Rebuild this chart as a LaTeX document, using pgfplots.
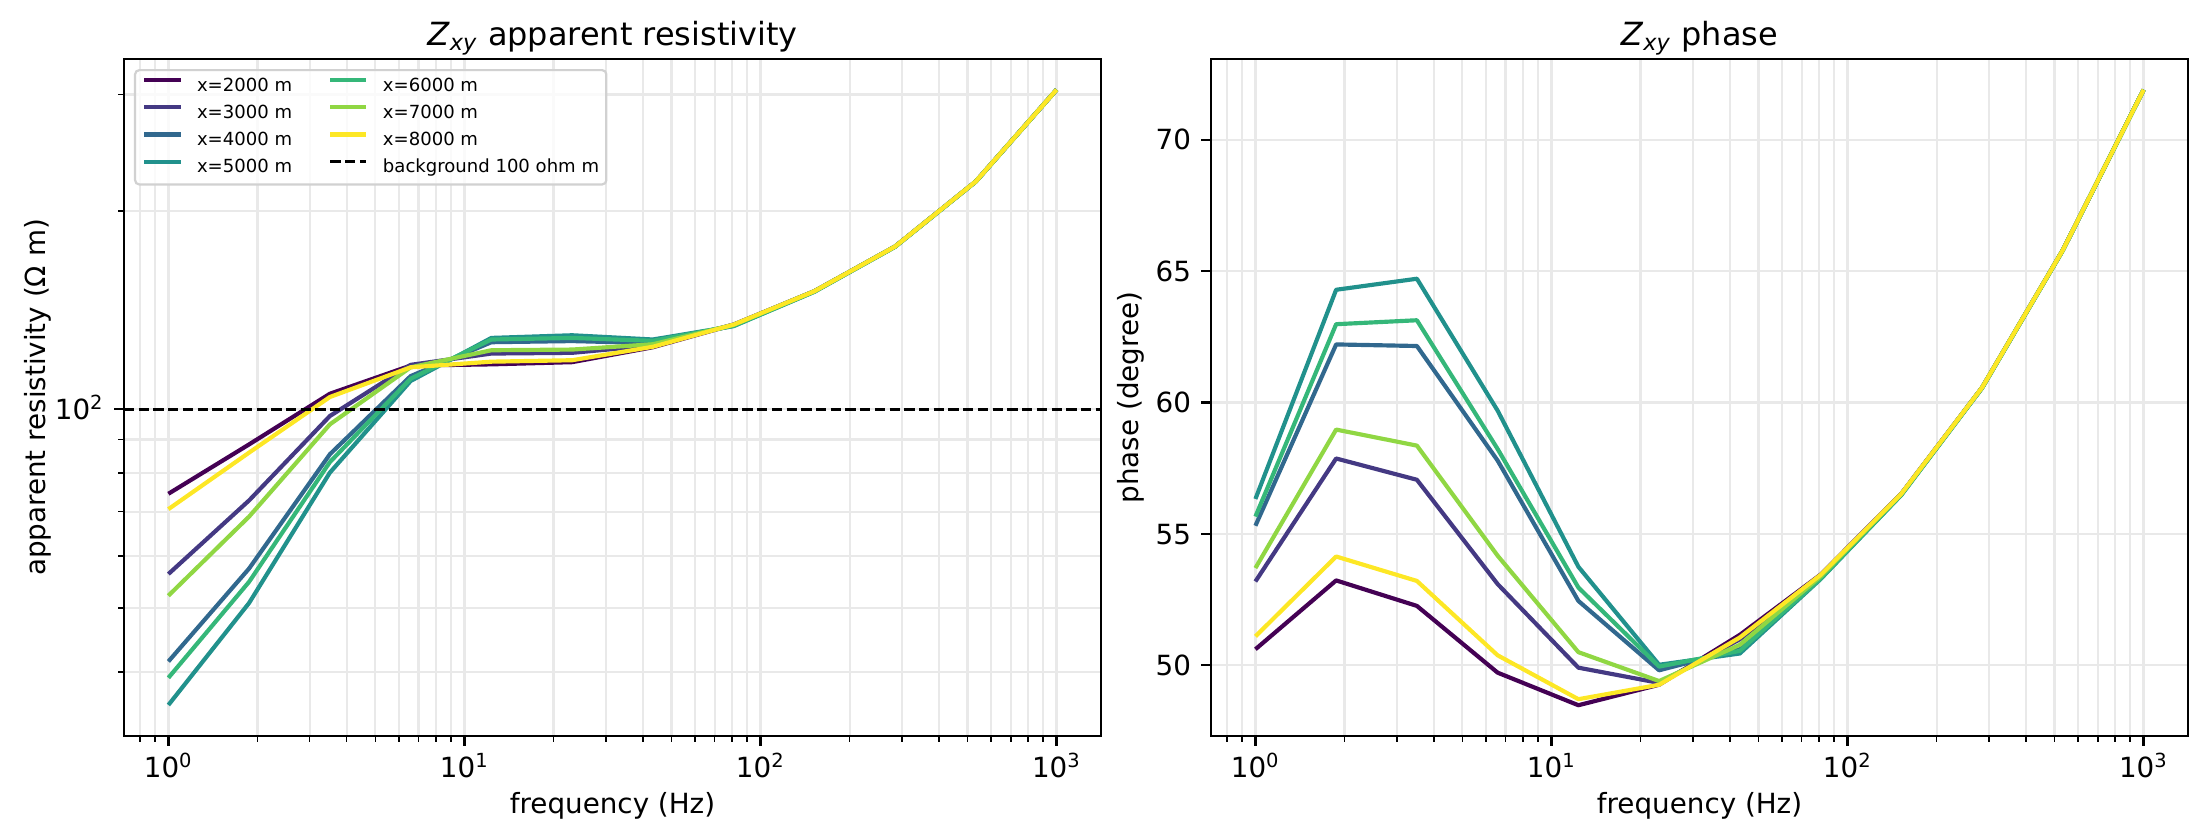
\documentclass[border=0pt]{standalone}
\usepackage{fontspec}
\setmainfont{DejaVu Sans}
\usepackage{pgfplots}
\usepackage{pgfplotstable}
\pgfplotsset{compat=1.18}
\definecolor{c2}{HTML}{440154}
\definecolor{c3}{HTML}{443983}
\definecolor{c4}{HTML}{31688E}
\definecolor{c5}{HTML}{21918C}
\definecolor{c6}{HTML}{35B779}
\definecolor{c7}{HTML}{90D743}
\definecolor{c8}{HTML}{FDE725}
\definecolor{gridc}{RGB}{233,233,233}

\pgfplotstableread{
f        r2     r3     r4     r5     r6     r7     r8
1        74.5   56.3   41.5   35.65  39.2   52.2   70.6
1.8738   88.5   72.8   57.4   50.9   54.8   68.8   86.0
3.5112   105.6  97.7   85.5   80.2   83.2   94.9   104.4
6.5793   116.5  116.8  112.3  110.4  111.3  115.8  115.8
12.328   117.0  121.5  126.4  128.3  127.6  122.9  118.1
23.101   117.9  121.8  126.9  129.5  128.3  123.2  118.7
43.288   124.2  125.0  126.0  127.6  127.0  125.5  124.4
81.113   134.4  134.4  134.0  133.7  133.8  134.3  134.4
151.99   151.0  151.0  151.0  150.7  150.8  151.0  151.0
284.80   176.5  176.5  176.5  176.3  176.4  176.5  176.5
533.67   221.5  221.5  221.5  221.3  221.4  221.5  221.5
1000     305    305    305    305    305    305    305
}\rhotab

\pgfplotstableread{
f        p2     p3     p4     p5     p6     p7     p8
1        50.61  53.19  55.31  56.33  55.66  53.70  51.10
1.8738   53.23  57.87  62.21  64.29  62.98  58.97  54.14
3.5112   52.26  57.06  62.15  64.71  63.13  58.36  53.21
6.5793   49.72  53.09  57.79  59.69  58.23  54.17  50.38
12.328   48.48  49.91  52.45  53.75  52.96  50.50  48.71
23.101   49.26  49.33  49.81  50.02  49.95  49.40  49.26
43.288   51.16  50.99  50.61  50.45  50.55  50.78  51.06
81.113   53.45  53.43  53.32  53.28  53.30  53.38  53.44
151.99   56.53  56.53  56.50  56.48  56.49  56.52  56.53
284.80   60.57  60.57  60.56  60.55  60.56  60.57  60.57
533.67   65.80  65.80  65.80  65.79  65.79  65.80  65.80
1000     71.90  71.90  71.90  71.90  71.90  71.90  71.90
}\phasetab

\pgfplotsset{
  every axis/.append style={
    scale only axis, width=351.72pt, height=243.7pt,
    xmin=0.708, xmax=1413,
    xtick={1,10,100,1000},
    xticklabels={10\textsuperscript{0},10\textsuperscript{1},10\textsuperscript{2},10\textsuperscript{3}},
    minor xtick={0.8,0.9,2,3,4,5,6,7,8,9,20,30,40,50,60,70,80,90,200,300,400,500,600,700,800,900},
    grid=both,
    major grid style={draw=gridc, line width=0.8pt},
    minor grid style={draw=gridc, line width=0.8pt},
    tick align=outside, major tick length=3.5pt, minor tick length=2pt,
    tick style={black, line width=0.8pt},
    minor tick style={black, line width=0.6pt},
    xtick pos=bottom, ytick pos=left,
    axis line style={line width=0.8pt},
    tick label style={font=\fontsize{10}{12}\selectfont, inner sep=0pt},
    xticklabel style={anchor=base, yshift=-11.4pt},
    yticklabel style={anchor=base east, xshift=-3.5pt, yshift=-3.65pt},
    label style={font=\fontsize{10}{12}\selectfont, inner sep=0pt},
    xlabel style={at={(axis description cs:0.5,0)}, anchor=base, yshift=-27.8pt},
    title style={at={(axis description cs:0.5,1)}, anchor=base, yshift=-1pt,
      font=\fontsize{11.5}{14}\selectfont, inner sep=0pt},
  },
  every axis plot/.append style={line width=1.5pt, line join=round},
}

\begin{document}
\begin{tikzpicture}
\useasboundingbox (0,0) rectangle (794.52pt,302.04pt);

\begin{axis}[
  xmode=log, ymode=log,
  at={(44.64pt,37.08pt)}, anchor=south west,
  ymin=32.0, ymax=339.5,
  ytick={100}, yticklabels={10\textsuperscript{2}},
  minor ytick={40,50,60,70,80,90,200,300},
  ylabel={apparent resistivity (Ω m)},
  ylabel style={at={(axis description cs:0,0.5)}, anchor=base, yshift=28.4pt},
  xlabel={frequency (Hz)},
  title={\textit{Z}\textsubscript{\textit{xy}} apparent resistivity},
  legend columns=2, legend cell align=left,
  legend image code/.code={\draw[#1] (0pt,2.3pt) -- (13pt,2.3pt);},
  legend style={
    at={(axis description cs:0,1)}, anchor=north west, xshift=3.6pt, yshift=-3.6pt,
    font=\fontsize{6.5}{7.8}\selectfont,
    draw=black!18, line width=0.8pt, rounded corners=1.5pt,
    fill=white, fill opacity=0.8, text opacity=1,
    inner xsep=2.6pt, inner ysep=2.6pt,
    row sep=3.25pt,
    nodes={inner sep=0pt, text height=4.95pt, text depth=1.6pt},
    /tikz/every odd column/.append style={column sep=5.2pt},
    /tikz/every even column/.append style={column sep=13pt},
  },
]
\addplot[c2, forget plot] table[x=f, y=r2] {\rhotab};
\addplot[c3, forget plot] table[x=f, y=r3] {\rhotab};
\addplot[c4, forget plot] table[x=f, y=r4] {\rhotab};
\addplot[c5, forget plot] table[x=f, y=r5] {\rhotab};
\addplot[c6, forget plot] table[x=f, y=r6] {\rhotab};
\addplot[c7, forget plot] table[x=f, y=r7] {\rhotab};
\addplot[c8, forget plot] table[x=f, y=r8] {\rhotab};
\addplot[black, line width=1pt, dash pattern=on 3.7pt off 1.6pt, forget plot] coordinates {(0.708,100) (1413,100)};
\addlegendimage{c2, line width=1.5pt}
\addlegendentry{x=2000 m}
\addlegendimage{c6, line width=1.5pt}
\addlegendentry{x=6000 m}
\addlegendimage{c3, line width=1.5pt}
\addlegendentry{x=3000 m}
\addlegendimage{c7, line width=1.5pt}
\addlegendentry{x=7000 m}
\addlegendimage{c4, line width=1.5pt}
\addlegendentry{x=4000 m}
\addlegendimage{c8, line width=1.5pt}
\addlegendentry{x=8000 m}
\addlegendimage{c5, line width=1.5pt}
\addlegendentry{x=5000 m}
\addlegendimage{black, line width=1pt, dash pattern=on 3.7pt off 1.6pt}
\addlegendentry{background 100 ohm m}
\end{axis}

\begin{axis}[
  xmode=log,
  at={(435.96pt,37.08pt)}, anchor=south west,
  ymin=47.31, ymax=73.07,
  ytick={50,55,60,65,70},
  yticklabels={50,55,60,65,70},
  ylabel={phase (degree)},
  ylabel style={at={(axis description cs:0,0.5)}, anchor=base, yshift=26pt},
  xlabel={frequency (Hz)},
  title={\textit{Z}\textsubscript{\textit{xy}} phase},
]
\addplot[c2] table[x=f, y=p2] {\phasetab};
\addplot[c3] table[x=f, y=p3] {\phasetab};
\addplot[c4] table[x=f, y=p4] {\phasetab};
\addplot[c5] table[x=f, y=p5] {\phasetab};
\addplot[c6] table[x=f, y=p6] {\phasetab};
\addplot[c7] table[x=f, y=p7] {\phasetab};
\addplot[c8] table[x=f, y=p8] {\phasetab};
\end{axis}
\end{tikzpicture}
\end{document}
